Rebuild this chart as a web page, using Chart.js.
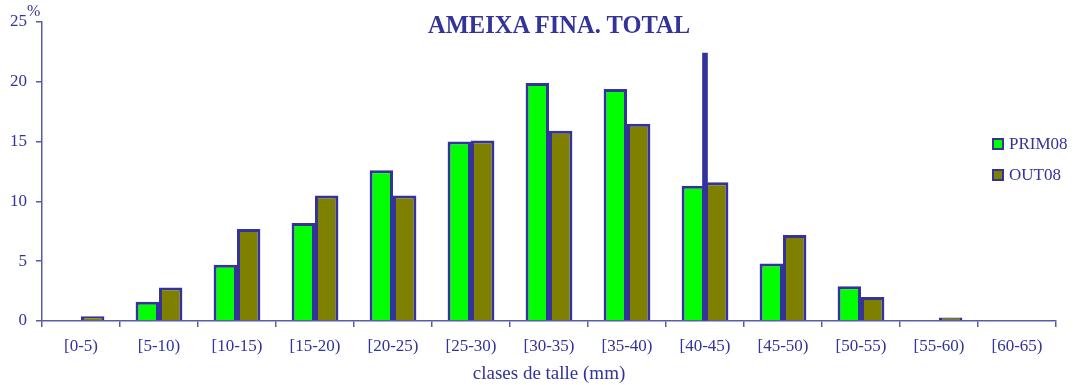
<!DOCTYPE html>
<html>
<head>
<meta charset="utf-8">
<script src="https://cdn.jsdelivr.net/npm/chart.js@4.4.1/dist/chart.umd.min.js"></script>
<style>
  html, body { margin: 0; padding: 0; background: #fff; }
  #wrap { position: relative; width: 1073px; height: 385px; }
  #c { position: absolute; left: 0; top: 0; }
  .ov { position: absolute; color: #333399; font-family: "Liberation Serif", serif; white-space: nowrap; }
  #title { left: 428px; top: 11px; font-size: 24.5px; font-weight: bold; }
  #pct { left: 27px; top: 2px; font-size: 16px; }
  #legend { left: 992px; top: 128px; font-size: 17px; }
  .li { display: flex; align-items: center; height: 31px; }
  .sw { width: 8px; height: 8px; border: 2.5px solid #333399; margin-right: 5px; }
</style>
</head>
<body>
<div id="wrap">
  <canvas id="c" width="1073" height="385"></canvas>
  <div class="ov" id="title"></div>
  <div class="ov" id="pct">%</div>
  <div class="ov" id="legend"></div>
</div>
<script>
const categories = ["[0-5)", "[5-10)", "[10-15)", "[15-20)", "[20-25)", "[25-30)", "[30-35)", "[35-40)", "[40-45)", "[45-50)", "[50-55)", "[55-60)", "[60-65)"];
const prim08 = [0, 1.6, 4.7, 8.2, 12.6, 15.0, 19.9, 19.4, 11.3, 4.8, 2.9, 0, 0];
const out08 = [0.4, 2.8, 7.7, 10.5, 10.5, 15.1, 15.9, 16.5, 11.6, 7.2, 2.0, 0.3, 0];
const markerLine = [null, null, null, null, null, null, null, null, 22.4, null, null, null, null];
const yTicks = [0, 5, 10, 15, 20, 25];
const titleText = "AMEIXA FINA. TOTAL";
const xTitle = "clases de talle (mm)";

const NAVY = "#333399";
const AXIS = "#5a5aaa";
const FONT = "'Liberation Serif', serif";

document.getElementById('title').textContent = titleText;

const datasets = [
  { label: "PRIM08", data: prim08, backgroundColor: "#00ff00", borderColor: NAVY, borderWidth: 3, borderSkipped: 'bottom', order: 1, categoryPercentage: 0.6, barPercentage: 1.0 },
  { label: "OUT08", data: out08, backgroundColor: "#808000", borderColor: NAVY, borderWidth: 3, borderSkipped: 'bottom', order: 2, categoryPercentage: 0.6, barPercentage: 1.0 },
  { label: "_line", data: markerLine, backgroundColor: NAVY, borderWidth: 0, grouped: false, barThickness: 5, order: 0 }
];

// HTML legend built from datasets
const leg = document.getElementById('legend');
datasets.filter(d => !d.label.startsWith('_')).forEach(d => {
  const row = document.createElement('div'); row.className = 'li';
  const sw = document.createElement('span'); sw.className = 'sw'; sw.style.background = d.backgroundColor;
  const tx = document.createElement('span'); tx.textContent = d.label;
  row.appendChild(sw); row.appendChild(tx); leg.appendChild(row);
});

new Chart(document.getElementById('c'), {
  type: 'bar',
  data: { labels: categories, datasets },
  options: {
    responsive: false,
    animation: false,
    layout: { padding: { left: 0, top: 22, right: 17, bottom: 0 } },
    plugins: { legend: { display: false }, title: { display: false }, tooltip: { enabled: false } },
    scales: {
      x: {
        grid: { display: true, drawOnChartArea: false, drawTicks: true, tickLength: 6, color: AXIS, offset: true, lineWidth: 1.5 },
        border: { color: AXIS, width: 1.5 },
        ticks: { color: NAVY, font: { family: FONT, size: 17 }, padding: 9, maxRotation: 0, autoSkip: false },
        title: { display: true, text: xTitle, color: NAVY, font: { family: FONT, size: 19 }, padding: { top: 0, bottom: 0 } },
        afterFit: s => { s.height = 64; }
      },
      y: {
        min: 0, max: 25,
        afterBuildTicks: s => { s.ticks = yTicks.map(v => ({ value: v })); },
        grid: { display: true, drawOnChartArea: false, drawTicks: true, tickLength: 6, color: AXIS, lineWidth: 1.5 },
        border: { color: AXIS, width: 1.5 },
        ticks: { color: NAVY, font: { family: FONT, size: 17 }, padding: 9 },
        afterFit: s => { s.width = 42; }
      }
    }
  }
});
</script>
</body>
</html>
